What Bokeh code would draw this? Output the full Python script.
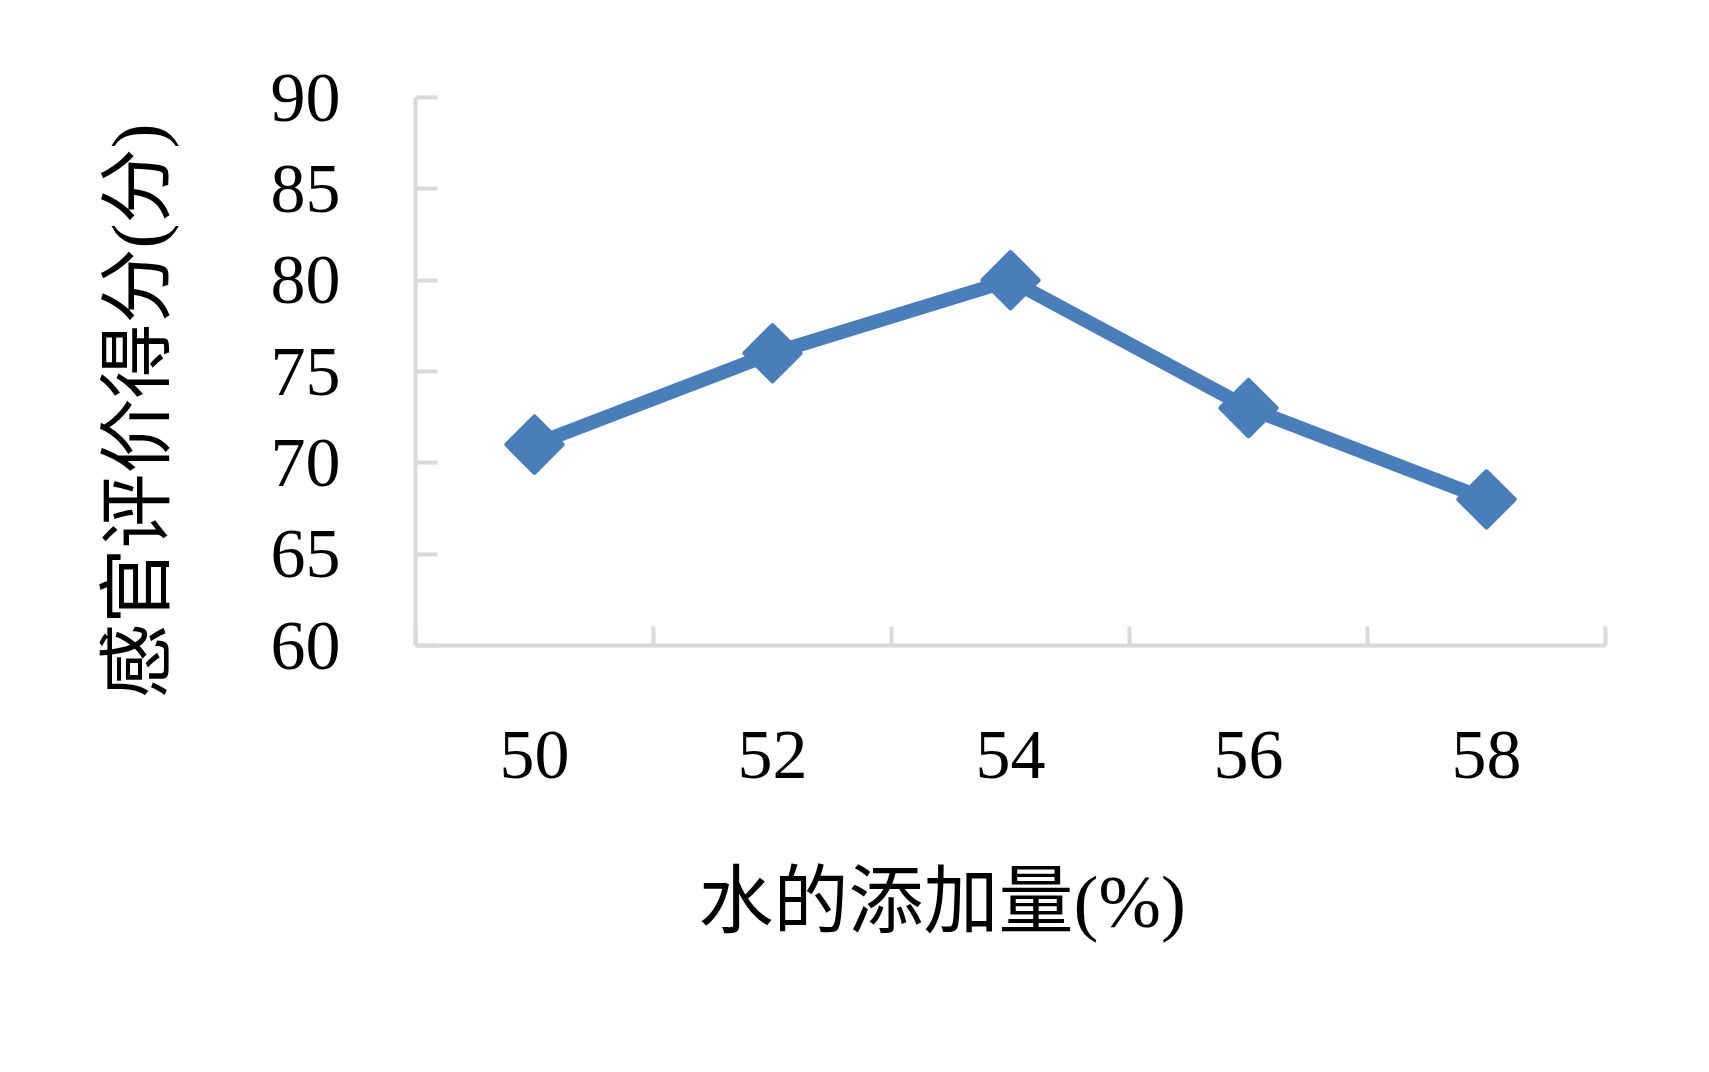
from bokeh.plotting import figure
from bokeh.models import FixedTicker, Range1d, Title
from bokeh.embed import file_html
from bokeh.resources import INLINE
import math

water = [50, 52, 54, 56, 58]
score = [71, 76, 80, 73, 68]
x_tick_labels = ["50", "52", "54", "56", "58"]
y_ticks = [60, 65, 70, 75, 80, 85, 90]
x_title = "水的添加量(%)"
y_title = "感官评价得分(分)"

BLUE = "#4a7ebb"
GREY = "#d9d9d9"
FONT = "'Liberation Serif', 'Noto Sans CJK SC'"

p = figure(width=1690, height=1050, output_backend="svg", toolbar_location=None,
           x_range=Range1d(49, 59), y_range=Range1d(60, 90))
p.min_border_left = 415
p.min_border_right = 85
p.min_border_top = 97
p.min_border_bottom = 405
p.outline_line_color = None
p.xgrid.grid_line_color = None
p.ygrid.grid_line_color = None
p.background_fill_color = "white"
p.border_fill_color = "white"

p.line(water, score, line_color=BLUE, line_width=14, line_join="round")
p.scatter(water, score, marker="square", size=39, angle=math.pi / 4,
          fill_color=BLUE, line_color=BLUE, line_width=5, line_join="round")

xa = p.xaxis[0]
xa.ticker = FixedTicker(ticks=water, minor_ticks=[49, 51, 53, 55, 57, 59])
xa.major_label_overrides = {w: l for w, l in zip(water, x_tick_labels)}
xa.axis_line_color = GREY
xa.axis_line_width = 4
xa.major_tick_line_color = None
xa.minor_tick_line_color = GREY
xa.minor_tick_line_width = 4
xa.minor_tick_in = 19
xa.minor_tick_out = 0
xa.major_label_text_font = FONT
xa.major_label_text_font_size = "70px"
xa.major_label_text_color = "black"
xa.major_label_standoff = 80

ya = p.yaxis[0]
ya.ticker = FixedTicker(ticks=y_ticks, minor_ticks=[])
ya.axis_line_color = GREY
ya.axis_line_width = 4
ya.major_tick_line_color = GREY
ya.major_tick_line_width = 4
ya.major_tick_in = 22
ya.major_tick_out = 0
ya.minor_tick_line_color = None
ya.major_label_text_font = FONT
ya.major_label_text_font_size = "70px"
ya.major_label_text_color = "black"
ya.major_label_standoff = 75

xt = Title(text=x_title, align="left", offset=283, standoff=154,
           text_font=FONT, text_font_size="75px", text_font_style="normal",
           text_color="black")
p.add_layout(xt, "below")

yt = Title(text=y_title, align="left", offset=-53, standoff=178,
           text_font=FONT, text_font_size="75px", text_font_style="normal",
           text_color="black")
p.add_layout(yt, "left")

open("out.html", "w").write(file_html(p, INLINE))
